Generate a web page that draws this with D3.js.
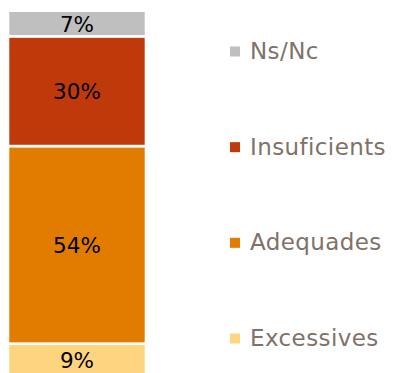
<!DOCTYPE html>
<html>
<head>
<meta charset="utf-8"/>
<script src="https://d3js.org/d3.v7.min.js"></script>
<style>
  body { margin: 0; background: #fff; }
  text { font-family: "DejaVu Sans", sans-serif; }
</style>
</head>
<body>
<svg width="407" height="373"></svg>
<script>
// stack order: bottom to top
var categories = ["Excessives", "Adequades", "Insuficients", "Ns/Nc"];
var values = [9, 54, 30, 7];
var colors = ["#FFD47F", "#E27C00", "#C0390A", "#BFBFBF"];
// legend top to bottom
var legendOrder = ["Ns/Nc", "Insuficients", "Adequades", "Excessives"];

var svg = d3.select("svg");

var y = d3.scaleLinear().domain([0, 100]).range([376.6, 10.7]);
var x = d3.scaleBand().domain(["total"]).range([8, 146]).padding(0);

var stackData = [], acc = 0;
values.forEach(function(v, i) {
  stackData.push({name: categories[i], v: v, y0: acc, y1: acc + v, color: colors[i]});
  acc += v;
});

svg.selectAll("rect.seg")
  .data(stackData)
  .enter().append("rect")
    .attr("class", "seg")
    .attr("x", x("total"))
    .attr("width", x.bandwidth())
    .attr("y", function(d) { return y(d.y1); })
    .attr("height", function(d) { return y(d.y0) - y(d.y1); })
    .attr("fill", function(d) { return d.color; })
    .attr("stroke", "#fff")
    .attr("stroke-width", 2.6);

svg.selectAll("text.lbl")
  .data(stackData)
  .enter().append("text")
    .attr("class", "lbl")
    .attr("x", x("total") + x.bandwidth() / 2)
    .attr("y", function(d) { return (y(d.y0) + y(d.y1)) / 2 + 8; })
    .attr("text-anchor", "middle")
    .attr("font-size", 21.5)
    .attr("fill", "#000")
    .text(function(d) { return d.v + "%"; });

var ly = d3.scalePoint().domain(legendOrder).range([59, 346]);

var leg = svg.selectAll("g.leg")
  .data(legendOrder)
  .enter().append("g")
    .attr("class", "leg")
    .attr("transform", function(d) { return "translate(0," + ly(d) + ")"; });

leg.append("rect")
  .attr("x", 230).attr("y", -12.5)
  .attr("width", 10).attr("height", 10)
  .attr("fill", function(d) { return colors[categories.indexOf(d)]; });

leg.append("text")
  .attr("x", 250)
  .attr("y", 0)
  .attr("font-size", 23)
  .attr("letter-spacing", 0.4)
  .attr("fill", "#7F7268")
  .text(function(d) { return d; });
</script>
</body>
</html>
